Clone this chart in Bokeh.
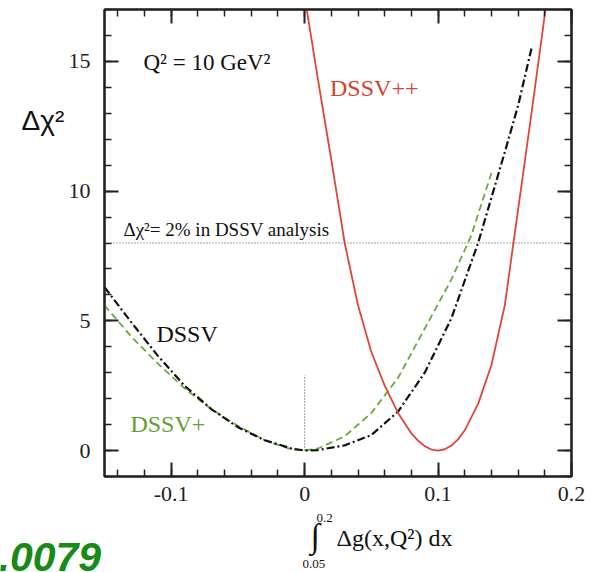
from bokeh.plotting import figure
from bokeh.models import Range1d, FixedTicker, LinearAxis, Label, Span
from bokeh.layouts import row, column
from bokeh.embed import file_html
from bokeh.resources import INLINE

# ---------------- data ----------------
dssv_x = [-0.15, -0.13, -0.11, -0.09, -0.07, -0.05, -0.03, -0.01, 0.0, 0.01, 0.03, 0.05, 0.07, 0.09, 0.11, 0.13, 0.15, 0.16, 0.17]
dssv_y = [6.3, 4.95, 3.65, 2.5, 1.6, 0.9, 0.4, 0.08, 0.0, 0.02, 0.2, 0.6, 1.5, 3.0, 5.1, 8.0, 11.5, 13.3, 15.5]

dssvp_x = [-0.15, -0.13, -0.11, -0.09, -0.07, -0.05, -0.03, -0.01, 0.0, 0.01, 0.03, 0.05, 0.07, 0.09, 0.11, 0.125, 0.14]
dssvp_y = [5.6, 4.4, 3.35, 2.4, 1.6, 0.95, 0.4, 0.05, 0.0, 0.08, 0.55, 1.45, 2.8, 4.7, 6.6, 8.3, 10.7]

dssvpp_x = [0.0, 0.01, 0.02, 0.03, 0.04, 0.05, 0.06, 0.07, 0.08, 0.085, 0.09, 0.095, 0.10, 0.105, 0.11, 0.115, 0.12, 0.13, 0.14, 0.15, 0.16, 0.17, 0.18, 0.185]
dssvpp_y = [17.5, 14.3, 11.2, 8.0, 5.6, 3.8, 2.5, 1.45, 0.66, 0.38, 0.17, 0.04, 0.0, 0.05, 0.19, 0.43, 0.78, 1.8, 3.3, 5.6, 9.3, 13.0, 16.8, 18.5]

threshold = 8.0            # Delta chi^2 = 2% line
ref_x = [0.0, 0.0]         # vertical dotted marker at 0
ref_y = [0.0, 2.9]

x_major = [-0.1, 0.0, 0.1, 0.2]
x_labels = {-0.1: "-0.1", 0: "0", 0.1: "0.1", 0.2: "0.2"}
x_minor = [round(-0.14 + 0.02 * i, 2) for i in range(18)]
y_major = [0, 5, 10, 15]
y_minor = list(range(-1, 18))

# ---------------- page geometry (pixels) ----------------
W, H = 596, 572
STRIP_W = 65               # left strip holding the y title
MAIN_H = 511               # main plot height; the bottom strip holds the x title
FL, FR, FT, FB = 103, 571, 9, 476
XMIN, XMAX, YMIN, YMAX = -0.15, 0.2, -1.0, 17.0


def dx(px):
    return XMIN + (px - FL) * (XMAX - XMIN) / (FR - FL)


def dy(py):
    return YMAX - (py - FT) * (YMAX - YMIN) / (FB - FT)


SERIF = "Liberation Serif"

p = figure(width=W - STRIP_W, height=MAIN_H, x_range=Range1d(XMIN, XMAX), y_range=Range1d(YMIN, YMAX),
           output_backend="svg", toolbar_location=None, x_axis_location=None, y_axis_location=None,
           min_border_left=FL - STRIP_W, min_border_right=W - FR, min_border_top=FT,
           min_border_bottom=MAIN_H - FB)
p.xgrid.visible = False
p.ygrid.visible = False
p.outline_line_color = "black"
p.outline_line_width = 2
p.background_fill_color = "white"
p.border_fill_color = "white"


def style_axis(ax, labels=True):
    ax.axis_line_color = "#222222"
    ax.axis_line_width = 2
    ax.major_tick_in = 14
    ax.major_tick_out = 0
    ax.minor_tick_in = 7
    ax.minor_tick_out = 0
    ax.major_tick_line_color = "#222222"
    ax.major_tick_line_width = 2
    ax.minor_tick_line_color = "#222222"
    ax.minor_tick_line_width = 1.5
    if labels:
        ax.major_label_text_font = SERIF
        ax.major_label_text_font_size = "22px"
        ax.major_label_text_color = "#222222"
    else:
        ax.major_label_text_font_size = "0px"
        ax.major_label_standoff = 0


xt = FixedTicker(ticks=x_major, minor_ticks=x_minor)
yt = FixedTicker(ticks=y_major, minor_ticks=y_minor)

bx = LinearAxis(ticker=xt, major_label_overrides=x_labels)
style_axis(bx)
bx.major_label_standoff = 10
p.add_layout(bx, "below")
tx = LinearAxis(ticker=xt)
style_axis(tx, labels=False)
p.add_layout(tx, "above")
ly = LinearAxis(ticker=yt)
style_axis(ly)
ly.major_label_standoff = 14
p.add_layout(ly, "left")
ry = LinearAxis(ticker=yt)
style_axis(ry, labels=False)
p.add_layout(ry, "right")

# reference lines
p.add_layout(Span(location=threshold, dimension="width", line_color="#444444",
                  line_dash="1 2", line_width=1))
p.line(ref_x, ref_y, line_color="#444444", line_dash="1 2", line_width=1)

# curves
p.line(dssvp_x, dssvp_y, line_color="#6aaa3a", line_dash="7 4", line_width=1.8)
p.line(dssv_x, dssv_y, line_color="#111111", line_dash="8 3 2 3", line_width=2.2)
p.line(dssvpp_x, dssvpp_y, line_color="#e0453a", line_width=1.8)


def lab(fig, x, y, text, size, color="#111111", font=SERIF, style="normal"):
    fig.add_layout(Label(x=x, y=y, text=text, text_font=font, text_font_size=size,
                         text_color=color, text_font_style=style, text_baseline="alphabetic"))


lab(p, dx(142), dy(62), "Q² = 10 GeV²", "23px")
lab(p, dx(329), dy(87), "DSSV++", "24px", color="#d9412f")
lab(p, dx(122), dy(228.5), "Δχ²= 2% in DSSV analysis", "19px")
lab(p, dx(155), dy(333.5), "DSSV", "24px")
lab(p, dx(129), dy(423.5), "DSSV+", "24px", color="#62a032")


def blank(width, height, x0, x1, y0, y1):
    f = figure(width=width, height=height, x_range=Range1d(x0, x1), y_range=Range1d(y0, y1),
               output_backend="svg", toolbar_location=None, x_axis_location=None,
               y_axis_location=None, min_border=0)
    f.xgrid.visible = False
    f.ygrid.visible = False
    f.outline_line_color = None
    f.background_fill_color = "white"
    f.border_fill_color = "white"
    return f


# left strip: y title (coordinates = page pixels, y downward)
left = blank(STRIP_W, MAIN_H, 0, STRIP_W, MAIN_H, 0)
lab(left, 21, 121, "Δχ²", "28px", font="Liberation Sans")

# bottom strip: x title and arXiv tag (coordinates = page pixels, y downward)
bottom = blank(W, H - MAIN_H, 0, W, H, MAIN_H)
lab(bottom, 316, 517, "0.2", "13px")
lab(bottom, 310, 535, "∫", "34px")
lab(bottom, 336, 537, "Δg(x,Q²) dx", "24px")
lab(bottom, 302, 563, "0.05", "13px")
lab(bottom, -2, 556, ".0079", "41px", color="#178a17", font="Liberation Sans", style="bold italic")

layout = column(row(left, p, spacing=0), bottom, spacing=0)
open("out.html", "w").write(file_html(layout, INLINE))
